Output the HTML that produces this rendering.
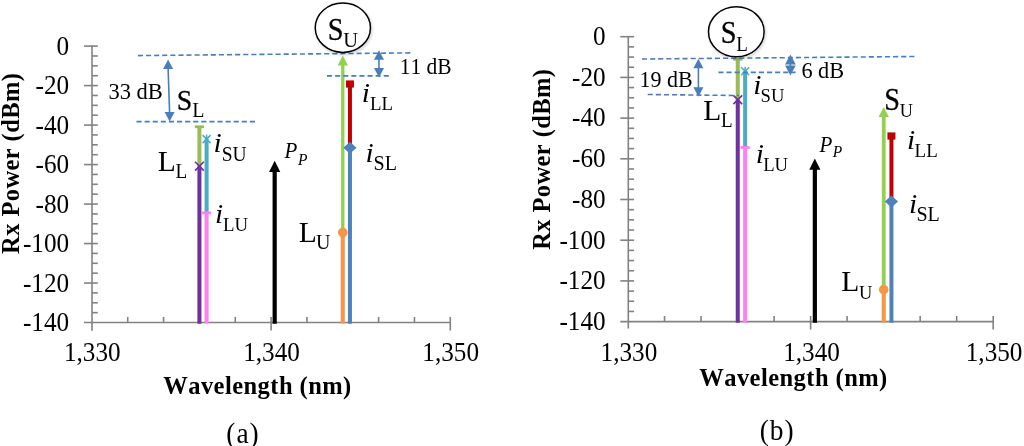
<!DOCTYPE html>
<html><head><meta charset="utf-8"><title>Rx Power vs Wavelength</title>
<style>
html,body{margin:0;padding:0;background:#fff;}
svg{display:block;font-family:"Liberation Serif", "Times New Roman", serif;font-kerning:none;}
</style></head>
<body>
<svg width="1024" height="446" viewBox="0 0 1024 446" fill="#000">
<defs><filter id="bl" x="-20%" y="-20%" width="140%" height="140%"><feGaussianBlur stdDeviation="1.2"/></filter></defs>
<rect width="1024" height="446" fill="#fff"/>
<g stroke="#828282" stroke-width="1.6" fill="none">
<line x1="92" y1="45.50" x2="92" y2="330.83"/>
<line x1="84" y1="322.53" x2="450.90" y2="322.53"/>
<line x1="84" y1="46.10" x2="97.8" y2="46.10"/>
<line x1="92" y1="55.97" x2="97.8" y2="55.97"/>
<line x1="92" y1="65.84" x2="97.8" y2="65.84"/>
<line x1="92" y1="75.72" x2="97.8" y2="75.72"/>
<line x1="84" y1="85.59" x2="97.8" y2="85.59"/>
<line x1="92" y1="95.46" x2="97.8" y2="95.46"/>
<line x1="92" y1="105.34" x2="97.8" y2="105.34"/>
<line x1="92" y1="115.21" x2="97.8" y2="115.21"/>
<line x1="84" y1="125.08" x2="97.8" y2="125.08"/>
<line x1="92" y1="134.95" x2="97.8" y2="134.95"/>
<line x1="92" y1="144.82" x2="97.8" y2="144.82"/>
<line x1="92" y1="154.70" x2="97.8" y2="154.70"/>
<line x1="84" y1="164.57" x2="97.8" y2="164.57"/>
<line x1="92" y1="174.44" x2="97.8" y2="174.44"/>
<line x1="92" y1="184.31" x2="97.8" y2="184.31"/>
<line x1="92" y1="194.19" x2="97.8" y2="194.19"/>
<line x1="84" y1="204.06" x2="97.8" y2="204.06"/>
<line x1="92" y1="213.93" x2="97.8" y2="213.93"/>
<line x1="92" y1="223.80" x2="97.8" y2="223.80"/>
<line x1="92" y1="233.68" x2="97.8" y2="233.68"/>
<line x1="84" y1="243.55" x2="97.8" y2="243.55"/>
<line x1="92" y1="253.42" x2="97.8" y2="253.42"/>
<line x1="92" y1="263.30" x2="97.8" y2="263.30"/>
<line x1="92" y1="273.17" x2="97.8" y2="273.17"/>
<line x1="84" y1="283.04" x2="97.8" y2="283.04"/>
<line x1="92" y1="292.91" x2="97.8" y2="292.91"/>
<line x1="92" y1="302.79" x2="97.8" y2="302.79"/>
<line x1="92" y1="312.66" x2="97.8" y2="312.66"/>
<line x1="127.74" y1="316.93" x2="127.74" y2="322.53"/>
<line x1="163.58" y1="316.93" x2="163.58" y2="322.53"/>
<line x1="199.42" y1="316.93" x2="199.42" y2="322.53"/>
<line x1="235.26" y1="316.93" x2="235.26" y2="322.53"/>
<line x1="271.10" y1="316.93" x2="271.10" y2="330.53"/>
<line x1="306.94" y1="316.93" x2="306.94" y2="322.53"/>
<line x1="342.78" y1="316.93" x2="342.78" y2="322.53"/>
<line x1="378.62" y1="316.93" x2="378.62" y2="322.53"/>
<line x1="414.46" y1="316.93" x2="414.46" y2="322.53"/>
<line x1="450.30" y1="316.93" x2="450.30" y2="330.53"/>
</g>
<g font-size="25.2" text-anchor="end">
<text transform="translate(69.1,54.60) scale(1,1.06)">0</text>
<text transform="translate(69.1,94.09) scale(1,1.06)">-20</text>
<text transform="translate(69.1,133.58) scale(1,1.06)">-40</text>
<text transform="translate(69.1,173.07) scale(1,1.06)">-60</text>
<text transform="translate(69.1,212.56) scale(1,1.06)">-80</text>
<text transform="translate(69.1,252.05) scale(1,1.06)">-100</text>
<text transform="translate(69.1,291.54) scale(1,1.06)">-120</text>
<text transform="translate(69.1,331.03) scale(1,1.06)">-140</text>
</g>
<g font-size="25.2" text-anchor="middle">
<text transform="translate(92.30,361.0) scale(1,1.06)">1,330</text>
<text transform="translate(271.50,361.0) scale(1,1.06)">1,340</text>
<text transform="translate(450.70,361.0) scale(1,1.06)">1,350</text>
</g>
<text font-weight="bold" letter-spacing="0.45" font-size="24.5" text-anchor="middle" x="257.5" y="394">Wavelength (nm)</text>
<text font-weight="bold" letter-spacing="0.4" font-size="24.5" text-anchor="middle" transform="translate(19,163.3) rotate(-90)">Rx Power (dBm)</text>
<text font-size="27.4" letter-spacing="1" text-anchor="middle" transform="translate(243,443.4) scale(1,1.04)">(a)</text>
<line x1="199.42" y1="125.87" x2="199.42" y2="166.15" stroke="#9bbb59" stroke-width="4.05"/>
<line x1="194.82" y1="126.77" x2="204.02" y2="126.77" stroke="#9bbb59" stroke-width="2.8"/>
<line x1="199.42" y1="166.15" x2="199.42" y2="323.63" stroke="#7030a0" stroke-width="4.05"/>
<path d="M195.02 161.75L203.82 170.55M203.82 161.75L195.02 170.55" stroke="#7030a0" stroke-width="1.7" fill="none"/>
<line x1="206.59" y1="139.10" x2="206.59" y2="211.96" stroke="#4bacc6" stroke-width="4.05"/>
<path d="M202.59 135.10L210.59 143.10M210.59 135.10L202.59 143.10M206.59 134.60L206.59 143.10" stroke="#4bacc6" stroke-width="1.5" fill="none"/>
<line x1="206.59" y1="211.96" x2="206.59" y2="323.63" stroke="#ff80f0" stroke-width="4.05"/>
<line x1="201.99" y1="212.86" x2="211.19" y2="212.86" stroke="#ff80f0" stroke-width="2.8"/>
<line x1="274.68" y1="168.82" x2="274.68" y2="323.63" stroke="#000" stroke-width="4.2"/>
<path d="M274.68 160.82L280.28 172.12L269.08 172.12Z" fill="#000"/>
<line x1="342.78" y1="62.58" x2="342.78" y2="232.49" stroke="#92d050" stroke-width="3.3"/>
<path d="M342.78 55.58L347.98 65.58L337.58 65.58Z" fill="#92d050"/>
<line x1="342.78" y1="232.49" x2="342.78" y2="323.63" stroke="#f79646" stroke-width="4.05"/>
<circle cx="342.78" cy="232.49" r="4.8" fill="#f79646"/>
<line x1="349.95" y1="84.01" x2="349.95" y2="147.79" stroke="#c00000" stroke-width="4.0"/>
<rect x="345.95" y="80.41" width="8" height="7.2" fill="#c00000"/>
<line x1="349.95" y1="147.79" x2="349.95" y2="323.63" stroke="#4f81bd" stroke-width="4.0"/>
<path d="M349.95 141.79L356.55 147.79L349.95 153.79L343.35 147.79Z" fill="#4f81bd"/>
<g stroke="#828282" stroke-width="1.6" fill="none">
<line x1="628.3" y1="36.10" x2="628.3" y2="328.60"/>
<line x1="620.3" y1="321.60" x2="993.80" y2="321.60"/>
<line x1="620.3" y1="36.70" x2="634.0999999999999" y2="36.70"/>
<line x1="628.3" y1="46.88" x2="634.0999999999999" y2="46.88"/>
<line x1="628.3" y1="57.05" x2="634.0999999999999" y2="57.05"/>
<line x1="628.3" y1="67.23" x2="634.0999999999999" y2="67.23"/>
<line x1="620.3" y1="77.40" x2="634.0999999999999" y2="77.40"/>
<line x1="628.3" y1="87.58" x2="634.0999999999999" y2="87.58"/>
<line x1="628.3" y1="97.75" x2="634.0999999999999" y2="97.75"/>
<line x1="628.3" y1="107.93" x2="634.0999999999999" y2="107.93"/>
<line x1="620.3" y1="118.10" x2="634.0999999999999" y2="118.10"/>
<line x1="628.3" y1="128.28" x2="634.0999999999999" y2="128.28"/>
<line x1="628.3" y1="138.45" x2="634.0999999999999" y2="138.45"/>
<line x1="628.3" y1="148.62" x2="634.0999999999999" y2="148.62"/>
<line x1="620.3" y1="158.80" x2="634.0999999999999" y2="158.80"/>
<line x1="628.3" y1="168.98" x2="634.0999999999999" y2="168.98"/>
<line x1="628.3" y1="179.15" x2="634.0999999999999" y2="179.15"/>
<line x1="628.3" y1="189.32" x2="634.0999999999999" y2="189.32"/>
<line x1="620.3" y1="199.50" x2="634.0999999999999" y2="199.50"/>
<line x1="628.3" y1="209.68" x2="634.0999999999999" y2="209.68"/>
<line x1="628.3" y1="219.85" x2="634.0999999999999" y2="219.85"/>
<line x1="628.3" y1="230.03" x2="634.0999999999999" y2="230.03"/>
<line x1="620.3" y1="240.20" x2="634.0999999999999" y2="240.20"/>
<line x1="628.3" y1="250.38" x2="634.0999999999999" y2="250.38"/>
<line x1="628.3" y1="260.55" x2="634.0999999999999" y2="260.55"/>
<line x1="628.3" y1="270.73" x2="634.0999999999999" y2="270.73"/>
<line x1="620.3" y1="280.90" x2="634.0999999999999" y2="280.90"/>
<line x1="628.3" y1="291.08" x2="634.0999999999999" y2="291.08"/>
<line x1="628.3" y1="301.25" x2="634.0999999999999" y2="301.25"/>
<line x1="628.3" y1="311.43" x2="634.0999999999999" y2="311.43"/>
<line x1="664.52" y1="316.00" x2="664.52" y2="321.60"/>
<line x1="701.04" y1="316.00" x2="701.04" y2="321.60"/>
<line x1="737.56" y1="316.00" x2="737.56" y2="321.60"/>
<line x1="774.08" y1="316.00" x2="774.08" y2="321.60"/>
<line x1="810.60" y1="316.00" x2="810.60" y2="329.60"/>
<line x1="847.12" y1="316.00" x2="847.12" y2="321.60"/>
<line x1="883.64" y1="316.00" x2="883.64" y2="321.60"/>
<line x1="920.16" y1="316.00" x2="920.16" y2="321.60"/>
<line x1="956.68" y1="316.00" x2="956.68" y2="321.60"/>
<line x1="993.20" y1="316.00" x2="993.20" y2="329.60"/>
</g>
<g font-size="25.2" text-anchor="end">
<text transform="translate(605.6,45.00) scale(1,1.06)">0</text>
<text transform="translate(605.6,85.70) scale(1,1.06)">-20</text>
<text transform="translate(605.6,126.40) scale(1,1.06)">-40</text>
<text transform="translate(605.6,167.10) scale(1,1.06)">-60</text>
<text transform="translate(605.6,207.80) scale(1,1.06)">-80</text>
<text transform="translate(605.6,248.50) scale(1,1.06)">-100</text>
<text transform="translate(605.6,289.20) scale(1,1.06)">-120</text>
<text transform="translate(605.6,329.90) scale(1,1.06)">-140</text>
</g>
<g font-size="25.2" text-anchor="middle">
<text transform="translate(628.90,361.2) scale(1,1.06)">1,330</text>
<text transform="translate(811.50,361.2) scale(1,1.06)">1,340</text>
<text transform="translate(994.10,361.2) scale(1,1.06)">1,350</text>
</g>
<text font-weight="bold" letter-spacing="0.45" font-size="24.5" text-anchor="middle" x="793.5" y="385.6">Wavelength (nm)</text>
<text font-weight="bold" letter-spacing="0.4" font-size="24.5" text-anchor="middle" transform="translate(550.4,159.2) rotate(-90)">Rx Power (dBm)</text>
<text font-size="27.4" letter-spacing="1" text-anchor="middle" transform="translate(777.2,439.8) scale(1,1.07)">(b)</text>
<line x1="737.76" y1="58.27" x2="737.76" y2="99.79" stroke="#9bbb59" stroke-width="4.05"/>
<line x1="733.16" y1="59.17" x2="742.36" y2="59.17" stroke="#9bbb59" stroke-width="2.8"/>
<line x1="737.76" y1="99.79" x2="737.76" y2="322.70" stroke="#7030a0" stroke-width="4.05"/>
<path d="M733.36 95.39L742.16 104.19M742.16 95.39L733.36 104.19" stroke="#7030a0" stroke-width="1.7" fill="none"/>
<line x1="745.16" y1="71.30" x2="745.16" y2="146.59" stroke="#4bacc6" stroke-width="4.05"/>
<path d="M741.16 67.30L749.16 75.30M749.16 67.30L741.16 75.30M745.16 66.80L745.16 75.30" stroke="#4bacc6" stroke-width="1.5" fill="none"/>
<line x1="745.16" y1="146.59" x2="745.16" y2="322.70" stroke="#ff80f0" stroke-width="4.05"/>
<line x1="740.56" y1="147.49" x2="749.76" y2="147.49" stroke="#ff80f0" stroke-width="2.8"/>
<line x1="814.85" y1="166.39" x2="814.85" y2="322.70" stroke="#000" stroke-width="4.2"/>
<path d="M814.85 158.39L820.45 169.69L809.25 169.69Z" fill="#000"/>
<line x1="883.74" y1="113.91" x2="883.74" y2="289.65" stroke="#92d050" stroke-width="3.8"/>
<path d="M883.74 106.91L888.94 116.91L878.54 116.91Z" fill="#92d050"/>
<line x1="883.74" y1="289.65" x2="883.74" y2="322.70" stroke="#f79646" stroke-width="4.05"/>
<circle cx="883.74" cy="289.65" r="4.8" fill="#f79646"/>
<line x1="891.44" y1="136.01" x2="891.44" y2="201.54" stroke="#c00000" stroke-width="4.0"/>
<rect x="887.44" y="132.41" width="8" height="7.2" fill="#c00000"/>
<line x1="891.44" y1="201.54" x2="891.44" y2="322.70" stroke="#4f81bd" stroke-width="4.0"/>
<path d="M891.44 195.54L898.04 201.54L891.44 207.54L884.84 201.54Z" fill="#4f81bd"/>
<line x1="137.9" y1="55.6" x2="410.6" y2="52.9" stroke="#4a7ebb" stroke-width="1.6" stroke-dasharray="5.1 3.0" fill="none"/>
<line x1="136.5" y1="121.6" x2="256.5" y2="121.6" stroke="#4a7ebb" stroke-width="1.6" stroke-dasharray="5.1 3.0" fill="none"/>
<line x1="327" y1="75.9" x2="389" y2="75.9" stroke="#4a7ebb" stroke-width="1.6" stroke-dasharray="5.1 3.0" fill="none"/>
<line x1="168.1" y1="67.9" x2="169.6" y2="113.0" stroke="#4a7ebb" stroke-width="1.6"/><path d="M168.1 59.4L173.1 68.9L163.1 68.9Z" fill="#4a7ebb"/><path d="M169.6 121.5L174.6 112.0L164.6 112.0Z" fill="#4a7ebb"/>
<line x1="379" y1="58.7" x2="379" y2="69.1" stroke="#4a7ebb" stroke-width="1.6"/><path d="M379 50.2L384.0 59.7L374.0 59.7Z" fill="#4a7ebb"/><path d="M379 77.6L384.0 68.1L374.0 68.1Z" fill="#4a7ebb"/>
<ellipse cx="343.85" cy="29.2" rx="27.6" ry="24.7" fill="none" stroke="#000" stroke-opacity="0.18" stroke-width="2.2" filter="url(#bl)"/><ellipse cx="342.85" cy="27.7" rx="27.6" ry="24.7" fill="#fff" stroke="#000" stroke-width="1.5"/>
<text transform="translate(108.5,98.6) scale(1,1.03)" font-size="22.5">33 dB</text>
<text transform="translate(399.7,73.8) scale(1,1.03)" font-size="21.5">11 dB</text>
<text transform="translate(176.8,110) scale(0.94,1.0)" font-size="29.5" stroke="#000" stroke-width="0.3">S</text><text transform="translate(192.22,116.8) scale(1,1.05)" font-size="20">L</text>
<text transform="translate(327.8,39.7) scale(0.96,1.04)" font-size="29.5" stroke="#000" stroke-width="0.3">S</text><text transform="translate(343.25,46.900000000000006) scale(1,1.05)" font-size="20.5">U</text>
<text transform="translate(361.7,101.8) scale(1,0.94)" font-size="29.5" font-style="italic">i</text><text transform="translate(369.90,110.1) scale(1,1.05)" font-size="18.8">LL</text>
<text transform="translate(213.5,152.4) scale(1,0.94)" font-size="29.5" font-style="italic">i</text><text transform="translate(221.70,161.0) scale(1,1.05)" font-size="19.5">SU</text>
<text transform="translate(157.7,170.6) scale(1,1.0)" font-size="29.5">L</text><text transform="translate(175.42,178.1) scale(1,1.05)" font-size="19.2">L</text>
<text transform="translate(284.5,158.3) scale(1,1.05)" font-size="21" font-style="italic">P</text><text transform="translate(297.93,164.5) scale(1,1.05)" font-size="15.5" font-style="italic">P</text>
<text transform="translate(365.4,162.2) scale(1,0.94)" font-size="29.5" font-style="italic">i</text><text transform="translate(373.60,170.39999999999998) scale(1,1.05)" font-size="20">SL</text>
<text transform="translate(214.9,223.1) scale(1,0.94)" font-size="29.5" font-style="italic">i</text><text transform="translate(223.10,230.5) scale(1,1.05)" font-size="18.8">LU</text>
<text transform="translate(298.8,241.5) scale(1,1.0)" font-size="29.5">L</text><text transform="translate(316.02,249.0) scale(1,1.05)" font-size="20">U</text>
<line x1="642" y1="59" x2="915" y2="56.5" stroke="#4a7ebb" stroke-width="1.6" stroke-dasharray="5.1 3.0" fill="none"/>
<line x1="647.7" y1="94.5" x2="739" y2="95.5" stroke="#4a7ebb" stroke-width="1.6" stroke-dasharray="5.1 3.0" fill="none"/>
<line x1="718.4" y1="72.4" x2="795.6" y2="72.4" stroke="#4a7ebb" stroke-width="1.6" stroke-dasharray="5.1 3.0" fill="none"/>
<line x1="698.4" y1="67.3" x2="698.4" y2="88.2" stroke="#4a7ebb" stroke-width="1.6"/><path d="M698.4 58.8L703.4 68.3L693.4 68.3Z" fill="#4a7ebb"/><path d="M698.4 96.7L703.4 87.2L693.4 87.2Z" fill="#4a7ebb"/>
<line x1="790.4" y1="63.599999999999994" x2="790.4" y2="66.4" stroke="#4a7ebb" stroke-width="1.6"/><path d="M790.4 54.5L795.6999999999999 64.6L785.1 64.6Z" fill="#4a7ebb"/><path d="M790.4 75.5L795.6999999999999 65.4L785.1 65.4Z" fill="#4a7ebb"/>
<ellipse cx="737.3" cy="33.3" rx="27.8" ry="25.0" fill="none" stroke="#000" stroke-opacity="0.18" stroke-width="2.2" filter="url(#bl)"/><ellipse cx="736.3" cy="31.8" rx="27.8" ry="25.0" fill="#fff" stroke="#000" stroke-width="1.5"/>
<text transform="translate(639.6,87.2) scale(1,1.03)" font-size="22">19 dB</text>
<text transform="translate(801.4,78.2) scale(1,1.03)" font-size="22.3">6 dB</text>
<text transform="translate(720.8,43.4) scale(0.96,1.06)" font-size="29.5" stroke="#000" stroke-width="0.3">S</text><text transform="translate(736.25,50.9) scale(1,1.05)" font-size="19">L</text>
<text transform="translate(753.2,93.5) scale(1,0.94)" font-size="29.5" font-style="italic">i</text><text transform="translate(760.60,102.0) scale(1,1.05)" font-size="18.6">SU</text>
<text transform="translate(703.2,119.6) scale(1,1.0)" font-size="29.5">L</text><text transform="translate(720.92,127.1) scale(1,1.05)" font-size="19">L</text>
<text transform="translate(755.8,163.2) scale(1,0.94)" font-size="29.5" font-style="italic">i</text><text transform="translate(763.20,170.7) scale(1,1.05)" font-size="18.7">LU</text>
<text transform="translate(819.5,151.8) scale(1,1.05)" font-size="21" font-style="italic">P</text><text transform="translate(832.73,157.3) scale(1,1.05)" font-size="15.5" font-style="italic">P</text>
<text transform="translate(884.2,110) scale(0.96,1.06)" font-size="29.5" stroke="#000" stroke-width="0.3">S</text><text transform="translate(899.65,116.6) scale(1,1.05)" font-size="18.2">U</text>
<text transform="translate(907,149) scale(1,0.94)" font-size="29.5" font-style="italic">i</text><text transform="translate(914.60,156.5) scale(1,1.05)" font-size="18.9">LL</text>
<text transform="translate(908.9,213) scale(1,0.94)" font-size="29.5" font-style="italic">i</text><text transform="translate(916.50,220.5) scale(1,1.05)" font-size="20">SL</text>
<text transform="translate(841.3,291.3) scale(1,1.0)" font-size="29.5">L</text><text transform="translate(858.92,299.3) scale(1,1.05)" font-size="18.4">U</text>
</svg>
</body></html>
